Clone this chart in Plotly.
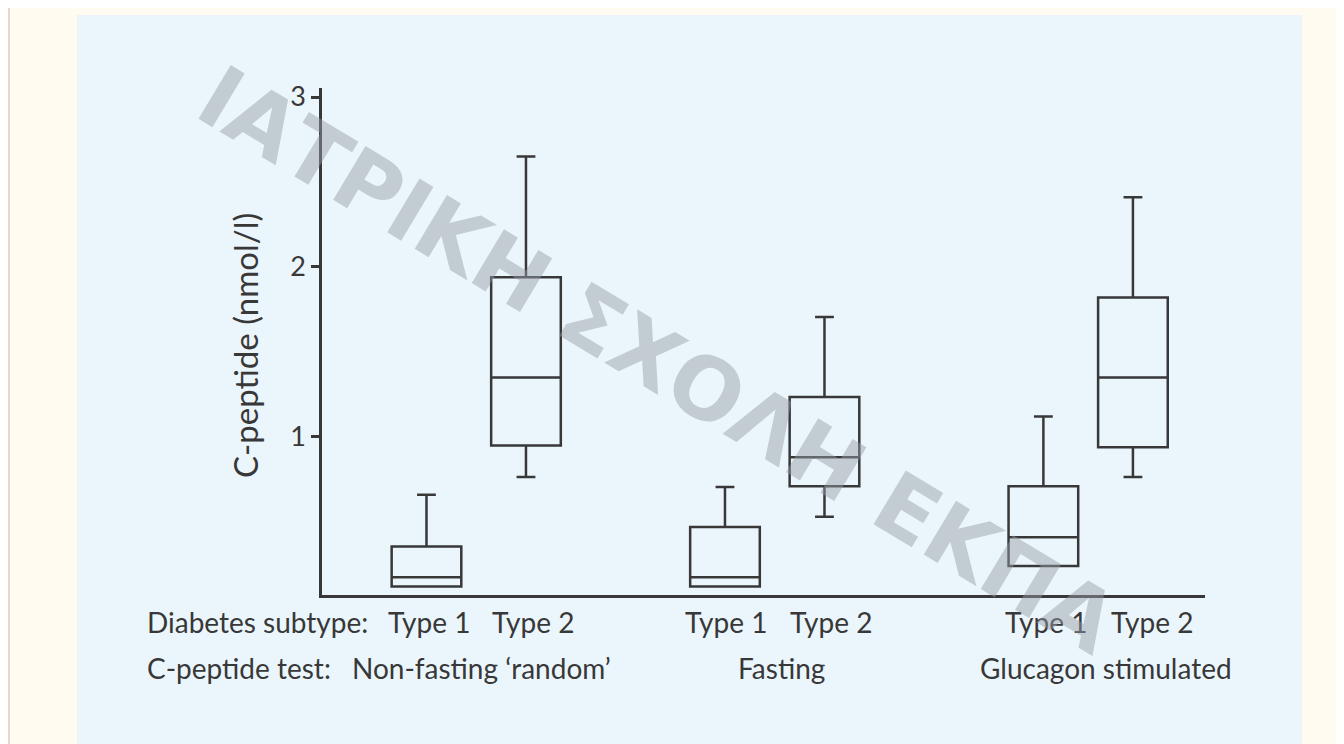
import plotly.graph_objects as go

# ---- data ----
subtypes = ["Type 1", "Type 2", "Type 1", "Type 2", "Type 1", "Type 2"]
tests = ["Non-fasting \u2018random\u2019", "Fasting", "Glucagon stimulated"]
q1 = [0.12, 0.95, 0.12, 0.71, 0.24, 0.94]
median = [0.175, 1.35, 0.175, 0.88, 0.41, 1.35]
q3 = [0.355, 1.94, 0.47, 1.235, 0.71, 1.82]
lowerfence = [0.12, 0.765, 0.12, 0.53, 0.24, 0.765]
upperfence = [0.66, 2.65, 0.705, 1.705, 1.12, 2.41]
y_ticks = [1, 2, 3]

# ---- layout constants (figure pixel coordinates; page has an 8px body margin) ----
OFF = 8
W, H = 1344, 744
L, T = 322 - OFF, 88 - OFF
PLOT_RIGHT, PLOT_BOTTOM = 1205 - OFF, 595 - OFF
R, B = W - PLOT_RIGHT, H - PLOT_BOTTOM
PW, PH = PLOT_RIGHT - L, PLOT_BOTTOM - T
X_POS = [1.05, 2.05, 4.05, 5.05, 7.25, 8.15]
X_RANGE = [0, PW / 99.5]
Y_RANGE = [0.07, 3.053]
LABEL_NUDGE = [0.03, 0.07, 0.01, 0.07, 0.03, 0.19]
GROUP_NUDGE = [0.05, 0.07, 0.18]
INK = "#383838"
FONT = "Lato"
LW = 2.5


def px_x(px):  # page px -> paper
    return (px - OFF - L) / PW


def px_y(py):
    return (PLOT_BOTTOM - (py - OFF)) / PH


fig = go.Figure()
for i in range(len(subtypes)):
    fig.add_trace(go.Box(
        x=[X_POS[i]], q1=[q1[i]], median=[median[i]], q3=[q3[i]],
        lowerfence=[lowerfence[i]], upperfence=[upperfence[i]],
        width=0.70, whiskerwidth=0.27, boxpoints=False,
        line=dict(color=INK, width=LW), fillcolor="rgba(0,0,0,0)",
        hoverinfo="skip", showlegend=False,
    ))

shapes = [
    dict(type="rect", xref="paper", yref="paper", layer="below",
         x0=px_x(77), x1=px_x(1302), y0=px_y(760), y1=px_y(15),
         fillcolor="#ebf6fc", line=dict(width=0)),
    dict(type="line", xref="paper", yref="paper", layer="below",
         x0=px_x(9), x1=px_x(9), y0=px_y(760), y1=px_y(8),
         line=dict(color="#ead6cf", width=2)),
]

annotations = []
tf = dict(family=FONT, size=28, color=INK)
annotations.append(dict(text="Diabetes subtype:", xref="paper", yref="paper",
                        x=px_x(145), y=px_y(622), xanchor="left", yanchor="middle",
                        showarrow=False, font=tf))
for i, s in enumerate(subtypes):
    annotations.append(dict(text=s, xref="x", yref="paper", x=X_POS[i] + LABEL_NUDGE[i],
                            y=px_y(622), xanchor="center", yanchor="middle",
                            showarrow=False, font=tf))
annotations.append(dict(text="C-peptide test:", xref="paper", yref="paper",
                        x=px_x(145), y=px_y(668), xanchor="left", yanchor="middle",
                        showarrow=False, font=tf))
for g, t in enumerate(tests):
    xc = (X_POS[2 * g] + X_POS[2 * g + 1]) / 2 + GROUP_NUDGE[g]
    annotations.append(dict(text=t, xref="x", yref="paper", x=xc, y=px_y(668),
                            xanchor="center", yanchor="middle", showarrow=False, font=tf))
annotations.append(dict(text="C-peptide (nmol/l)", xref="paper", yref="paper",
                        x=px_x(245), y=px_y(346), textangle=-90,
                        xanchor="center", yanchor="middle", showarrow=False,
                        font=dict(family=FONT, size=33, color=INK)))
annotations.append(dict(text="<b>ΙΑΤΡΙΚΗ ΣΧΟΛΗ ΕΚΠΑ</b>", xref="paper", yref="paper",
                        x=px_x(658), y=px_y(360), textangle=31,
                        xanchor="center", yanchor="middle", showarrow=False,
                        font=dict(family="DejaVu Sans", size=86,
                                  color="rgba(150,158,165,0.47)")))

fig.update_layout(
    width=W, height=H,
    margin=dict(l=L, r=R, t=T, b=B, pad=0),
    paper_bgcolor="#fffbf0", plot_bgcolor="rgba(0,0,0,0)",
    shapes=shapes, annotations=annotations,
    xaxis=dict(range=X_RANGE, showgrid=False, zeroline=False, showline=True,
               linecolor=INK, linewidth=LW, showticklabels=False, ticks=""),
    yaxis=dict(range=Y_RANGE, showgrid=False, zeroline=False, showline=True,
               linecolor=INK, linewidth=LW, tickvals=y_ticks, ticks="outside",
               ticklen=8, tickwidth=LW, tickcolor=INK,
               tickfont=dict(family=FONT, size=27, color=INK)),
)

fig.write_html("out.html")
